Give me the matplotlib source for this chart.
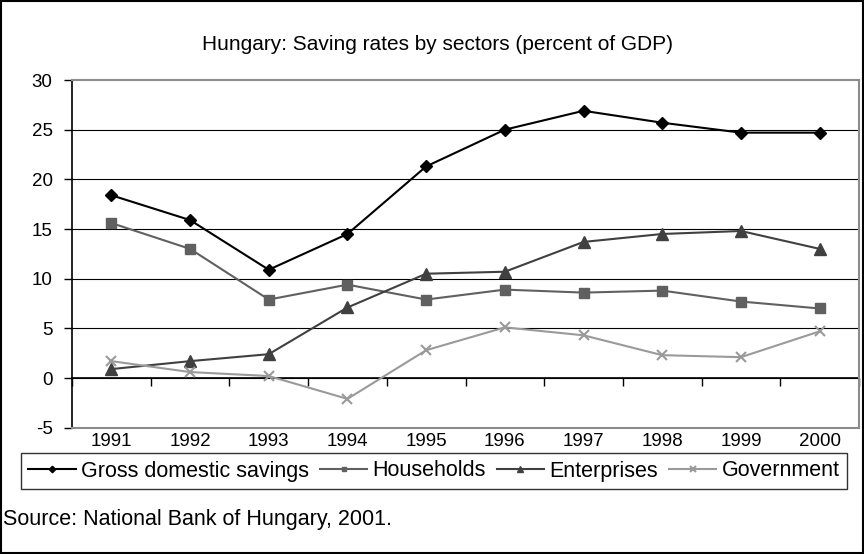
import matplotlib.pyplot as plt
from matplotlib.patches import Rectangle
import numpy as np

plt.rcParams['font.family'] = ['Liberation Sans', 'DejaVu Sans']
plt.rcParams['axes.unicode_minus'] = False

years = ['1991', '1992', '1993', '1994', '1995', '1996', '1997', '1998', '1999', '2000']
gross_savings = [18.4, 15.9, 10.9, 14.5, 21.3, 25.0, 26.9, 25.7, 24.7, 24.7]
households = [15.6, 13.0, 7.9, 9.4, 7.9, 8.9, 8.6, 8.8, 7.7, 7.0]
enterprises = [0.9, 1.7, 2.4, 7.1, 10.5, 10.7, 13.7, 14.5, 14.8, 13.0]
government = [1.7, 0.6, 0.2, -2.1, 2.8, 5.1, 4.3, 2.3, 2.1, 4.7]

fig = plt.figure(figsize=(8.64, 5.54), dpi=100)
ax = fig.add_axes([72 / 864, 1 - 427.7 / 554, 787 / 864, 347.7 / 554])

x = np.arange(len(years))
ax.plot(x, gross_savings, '-', color='black', lw=1.5, marker='D', ms=6, label='Gross domestic savings')
ax.plot(x, households, '-', color='#606060', lw=1.5, marker='s', ms=6.5, label='Households')
ax.plot(x, enterprises, '-', color='#404040', lw=1.5, marker='^', ms=8, label='Enterprises')
ax.plot(x, government, '-', color='#9a9a9a', lw=1.5, marker='x', ms=7, mew=1.5, label='Government')

ax.set_xlim(-0.5, len(years) - 0.5)
ax.set_ylim(-5, 30)
ax.set_yticks(np.arange(-5, 31, 5))
ax.tick_params(axis='y', direction='out', length=6, width=1, labelsize=13.5, pad=8)
ax.set_xticks(x)
ax.set_xticklabels(years)
ax.tick_params(axis='x', length=0, labelsize=13.5, pad=4)

ax.yaxis.grid(True, color='black', lw=0.8)
ax.get_ygridlines()[-1].set_visible(False)
ax.set_axisbelow(True)

for side in ['top', 'right', 'bottom']:
    ax.spines[side].set_color('#8c8c8c')
    ax.spines[side].set_linewidth(1.5)
ax.spines['left'].set_color('black')
ax.spines['left'].set_linewidth(1.2)

# category axis drawn along the zero line
zero_axis = ax.secondary_xaxis(5 / 35)
zero_axis.set_xticks(np.arange(-0.5, len(years) + 0.5, 1.0))
zero_axis.set_xticklabels([])
zero_axis.tick_params(direction='out', length=6, width=1)
zero_axis.spines['bottom'].set_color('black')
zero_axis.spines['bottom'].set_linewidth(1.2)

fig.text(438 / 864, 1 - 45 / 554, 'Hungary: Saving rates by sectors (percent of GDP)',
         ha='center', va='center', fontsize=15)

leg = fig.legend(loc='center', bbox_to_anchor=(434 / 864, 1 - 471 / 554), ncol=4,
                 fontsize=15.5, frameon=True, fancybox=False, handlelength=2.2,
                 handletextpad=0.25, columnspacing=0.5, borderpad=0.35, markerscale=0.55)
leg.get_frame().set_edgecolor('black')
leg.get_frame().set_linewidth(1.0)

fig.text(3 / 864, 1 - 520 / 554, 'Source: National Bank of Hungary, 2001.',
         ha='left', va='center', fontsize=15.5)

fig.patches.append(Rectangle((0.001, 0.001), 0.998, 0.997, transform=fig.transFigure,
                             fill=False, edgecolor='black', lw=1.5))

fig.savefig('out.png', dpi=100)
